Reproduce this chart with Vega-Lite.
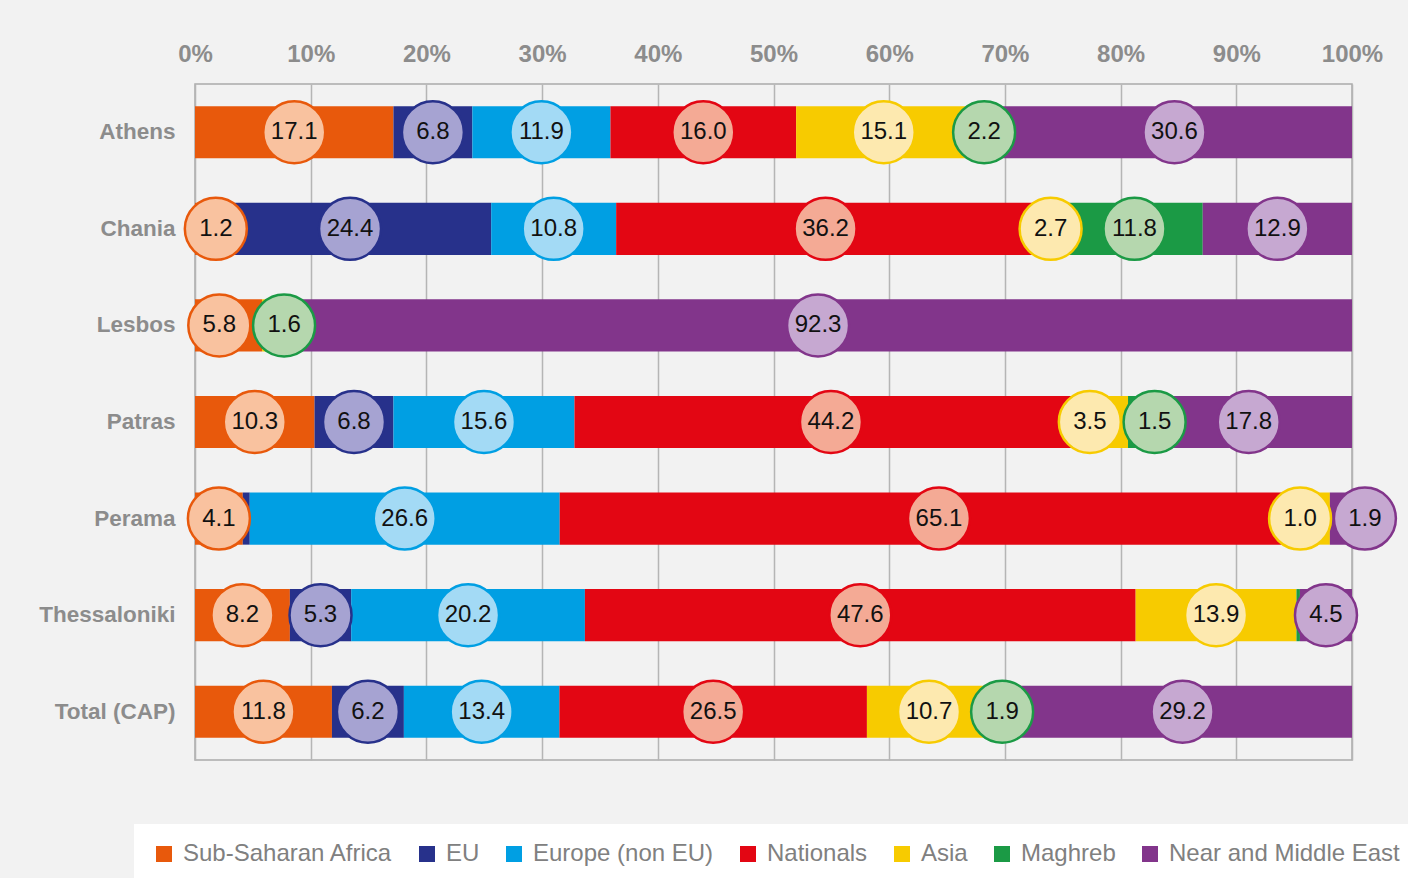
{
  "$schema": "https://vega.github.io/schema/vega-lite/v6.json",
  "width": 1157,
  "height": 676,
  "autosize": {"type": "none"},
  "padding": {"left": 195, "top": 84, "right": 56, "bottom": 118},
  "background": "#f2f2f2",
  "config": {
    "view": {"stroke": "#ababab", "strokeWidth": 1.5},
    "font": "Liberation Sans"
  },
  "data": {
    "values": [
      {"place": "Athens", "region": "Sub-Saharan Africa", "value": 17.1},
      {"place": "Athens", "region": "EU", "value": 6.8},
      {"place": "Athens", "region": "Europe (non EU)", "value": 11.9},
      {"place": "Athens", "region": "Nationals", "value": 16.0},
      {"place": "Athens", "region": "Asia", "value": 15.1},
      {"place": "Athens", "region": "Maghreb", "value": 2.2},
      {"place": "Athens", "region": "Near and Middle East", "value": 30.6},
      {"place": "Chania", "region": "Sub-Saharan Africa", "value": 1.2},
      {"place": "Chania", "region": "EU", "value": 24.4},
      {"place": "Chania", "region": "Europe (non EU)", "value": 10.8},
      {"place": "Chania", "region": "Nationals", "value": 36.2},
      {"place": "Chania", "region": "Asia", "value": 2.7},
      {"place": "Chania", "region": "Maghreb", "value": 11.8},
      {"place": "Chania", "region": "Near and Middle East", "value": 12.9},
      {"place": "Lesbos", "region": "Sub-Saharan Africa", "value": 5.8},
      {"place": "Lesbos", "region": "Asia", "value": 0.3},
      {"place": "Lesbos", "region": "Maghreb", "value": 1.6},
      {"place": "Lesbos", "region": "Near and Middle East", "value": 92.3},
      {"place": "Patras", "region": "Sub-Saharan Africa", "value": 10.3},
      {"place": "Patras", "region": "EU", "value": 6.8},
      {"place": "Patras", "region": "Europe (non EU)", "value": 15.6},
      {"place": "Patras", "region": "Nationals", "value": 44.2},
      {"place": "Patras", "region": "Asia", "value": 3.5},
      {"place": "Patras", "region": "Maghreb", "value": 1.5},
      {"place": "Patras", "region": "Near and Middle East", "value": 17.8},
      {"place": "Perama", "region": "Sub-Saharan Africa", "value": 4.1},
      {"place": "Perama", "region": "EU", "value": 0.6},
      {"place": "Perama", "region": "Europe (non EU)", "value": 26.6},
      {"place": "Perama", "region": "Nationals", "value": 65.1},
      {"place": "Perama", "region": "Asia", "value": 1.0},
      {"place": "Perama", "region": "Near and Middle East", "value": 1.9},
      {"place": "Thessaloniki", "region": "Sub-Saharan Africa", "value": 8.2},
      {"place": "Thessaloniki", "region": "EU", "value": 5.3},
      {"place": "Thessaloniki", "region": "Europe (non EU)", "value": 20.2},
      {"place": "Thessaloniki", "region": "Nationals", "value": 47.6},
      {"place": "Thessaloniki", "region": "Asia", "value": 13.9},
      {"place": "Thessaloniki", "region": "Maghreb", "value": 0.3},
      {"place": "Thessaloniki", "region": "Near and Middle East", "value": 4.5},
      {"place": "Total (CAP)", "region": "Sub-Saharan Africa", "value": 11.8},
      {"place": "Total (CAP)", "region": "EU", "value": 6.2},
      {"place": "Total (CAP)", "region": "Europe (non EU)", "value": 13.4},
      {"place": "Total (CAP)", "region": "Nationals", "value": 26.5},
      {"place": "Total (CAP)", "region": "Asia", "value": 10.7},
      {"place": "Total (CAP)", "region": "Maghreb", "value": 1.9},
      {"place": "Total (CAP)", "region": "Near and Middle East", "value": 29.2}
    ]
  },
  "transform": [
    {"calculate": "indexof(['Sub-Saharan Africa','EU','Europe (non EU)','Nationals','Asia','Maghreb','Near and Middle East'], datum.region)", "as": "ord"},
    {"stack": "value", "groupby": ["place"], "sort": [{"field": "ord", "order": "ascending"}], "offset": "normalize", "as": ["x0", "x1"]},
    {"calculate": "(datum.x0 + datum.x1) / 2", "as": "mid"}
  ],
  "encoding": {
    "y": {
      "field": "place",
      "type": "nominal",
      "sort": ["Athens", "Chania", "Lesbos", "Patras", "Perama", "Thessaloniki", "Total (CAP)"],
      "scale": {"paddingInner": 0.46, "paddingOuter": 0.23},
      "axis": {
        "title": null,
        "ticks": false,
        "domain": false,
        "labelFontSize": 22.5,
        "labelColor": "#8c8c8c",
        "labelFontWeight": "bold",
        "labelPadding": 20
      }
    }
  },
  "layer": [
    {
      "mark": {"type": "bar"},
      "encoding": {
        "x": {
          "field": "x0",
          "type": "quantitative",
          "scale": {"domain": [0, 1]},
          "axis": {
            "orient": "top",
            "title": null,
            "format": ".0%",
            "values": [0, 0.1, 0.2, 0.3, 0.4, 0.5, 0.6, 0.7, 0.8, 0.9, 1],
            "labelFontSize": 24,
            "labelColor": "#8c8c8c",
            "labelFontWeight": "bold",
            "labelPadding": 18,
            "labelFlush": false,
            "ticks": false,
            "domain": false,
            "grid": true,
            "gridColor": "#b5b5b5",
            "gridWidth": 1.5
          }
        },
        "x2": {"field": "x1"},
        "color": {
          "field": "region",
          "type": "nominal",
          "scale": {
            "domain": ["Sub-Saharan Africa", "EU", "Europe (non EU)", "Nationals", "Asia", "Maghreb", "Near and Middle East"],
            "range": ["#e8590c", "#27318b", "#009fe3", "#e30613", "#f7cb00", "#1b9a45", "#82358b"]
          },
          "legend": {
            "title": null,
            "orient": "none",
            "legendX": -61,
            "legendY": 740,
            "direction": "horizontal",
            "columns": 7,
            "symbolType": "square",
            "symbolSize": 256,
            "symbolStrokeWidth": 0,
            "labelFontSize": 24,
            "labelColor": "#808080",
            "labelOffset": 7,
            "columnPadding": 22,
            "fillColor": "white",
            "padding": 18,
            "labelLimit": 400
          }
        }
      }
    },
    {
      "transform": [
        {"filter": "datum.value >= 1"},
        {"window": [{"op": "lag", "field": "mid", "as": "prevMid"}, {"op": "lead", "field": "mid", "as": "nextMid"}], "groupby": ["place"], "sort": [{"field": "ord", "order": "ascending"}]},
        {"calculate": "max(0.018, datum.mid + (isValid(datum.prevMid) && datum.mid - datum.prevMid < 0.056 ? (0.056 - datum.mid + datum.prevMid) / 2 : 0) - (isValid(datum.nextMid) && datum.nextMid - datum.mid < 0.056 ? (0.056 - datum.nextMid + datum.mid) / 2 : 0))", "as": "pos"}
      ],
      "encoding": {
        "x": {"field": "pos", "type": "quantitative"}
      },
      "layer": [
        {
          "mark": {"type": "point", "shape": "circle", "filled": true, "size": 3844, "strokeWidth": 2.5, "opacity": 1},
          "encoding": {
            "fill": {
              "field": "region",
              "type": "nominal",
              "scale": {
                "domain": ["Sub-Saharan Africa", "EU", "Europe (non EU)", "Nationals", "Asia", "Maghreb", "Near and Middle East"],
                "range": ["#f9c29f", "#a6a3d2", "#a3daf5", "#f4aa95", "#fde9af", "#b5d7ae", "#c6a8d1"]
              },
              "legend": null
            },
            "stroke": {
              "field": "region",
              "type": "nominal",
              "scale": {
                "domain": ["Sub-Saharan Africa", "EU", "Europe (non EU)", "Nationals", "Asia", "Maghreb", "Near and Middle East"],
                "range": ["#e8590c", "#27318b", "#009fe3", "#e30613", "#f7cb00", "#1b9a45", "#82358b"]
              },
              "legend": null
            }
          }
        },
        {
          "mark": {"type": "text", "fontSize": 24, "color": "#111111", "baseline": "middle", "align": "center"},
          "encoding": {
            "text": {"field": "value", "type": "quantitative", "format": ".1f"}
          }
        }
      ]
    }
  ]
}
